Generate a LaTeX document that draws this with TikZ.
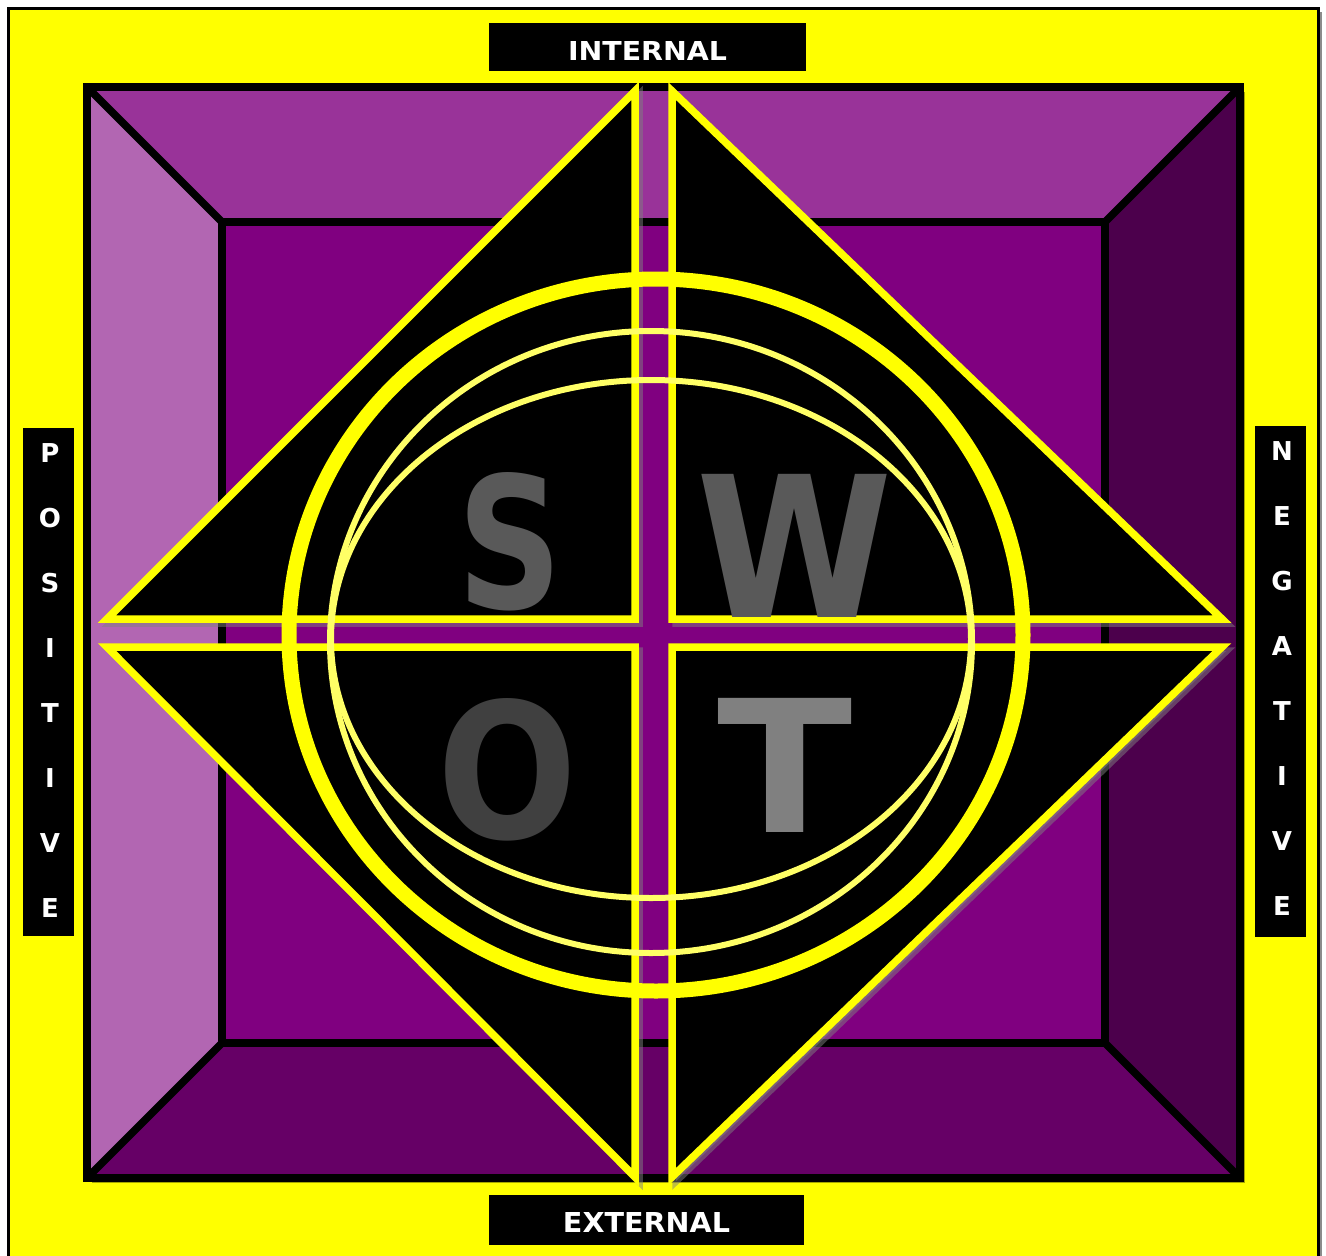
\documentclass[tikz,border=0pt]{standalone}
\usepackage{fontspec}
\setmainfont{DejaVu Sans}
\usepackage{graphicx}
\definecolor{bgyellow}{HTML}{FFFF00}
\definecolor{lightyel}{HTML}{FFFF66}
\definecolor{ptop}{HTML}{993399}
\definecolor{pleft}{HTML}{B266B2}
\definecolor{pright}{HTML}{4C004C}
\definecolor{pbottom}{HTML}{660066}
\definecolor{pcenter}{HTML}{800080}
\definecolor{sgray}{HTML}{595959}
\definecolor{ogray}{HTML}{404040}
\definecolor{tgray}{HTML}{808080}
\tikzset{
  panel/.style={draw=black, line width=7.5pt, line join=miter},
  tri/.style={fill=black, draw=bgyellow, line width=7.5pt, line join=miter},
  trishadow/.style={fill=gray, draw=gray, line width=7.5pt, opacity=.5, line join=miter},
  labelbox/.style={fill=black, draw=bgyellow, line width=3pt},
  bigletter/.style={inner sep=0pt, font=\bfseries},
  sideletter/.style={inner sep=0pt, text=white, font=\fontsize{26}{26}\selectfont\bfseries},
  boxtext/.style={inner sep=0pt, text=white, font=\bfseries},
}
\begin{document}
\begin{tikzpicture}[x=1pt,y=-1pt]
\useasboundingbox (0,0) rectangle (1326,1256);
\clip (0,0) rectangle (1326,1256);
\fill[white] (0,0) rectangle (1326,1256);
% outer frame
\fill[black!45] (12,12) rectangle (1322,1275);
\draw[fill=bgyellow, line width=3pt] (8,8) rectangle (1318,1270);
% frame shadow
\fill[black, opacity=.35] (92,92) rectangle (1245,1183);
% panels
\fill[pcenter] (222,222) rectangle (1105,1043);
\fill[ptop] (87,87) -- (1240,87) -- (1105,222) -- (222,222) -- cycle;
\fill[pleft] (87,87) -- (222,222) -- (222,1043) -- (87,1178) -- cycle;
\fill[pright] (1240,87) -- (1240,1178) -- (1105,1043) -- (1105,222) -- cycle;
\fill[pbottom] (87,1178) -- (1240,1178) -- (1105,1043) -- (222,1043) -- cycle;
\draw[panel] (87,87) rectangle (1240,1178);
\draw[panel] (222,222) rectangle (1105,1043);
\draw[panel] (87,87) -- (222,222);
\draw[panel] (1240,87) -- (1105,222);
\draw[panel] (87,1178) -- (222,1043);
\draw[panel] (1240,1178) -- (1105,1043);
% triangle shadows
\begin{scope}[shift={(4,4)}]
\draw[trishadow] (635,91) -- (635,619) -- (107,619) -- cycle;
\draw[trishadow] (672,91) -- (672,619) -- (1222,619) -- cycle;
\draw[trishadow] (107,647) -- (635,647) -- (635,1177) -- cycle;
\draw[trishadow] (672,647) -- (1222,647) -- (672,1177) -- cycle;
\end{scope}
% triangles
\draw[tri] (635,91) -- (635,619) -- (107,619) -- cycle;
\draw[tri] (672,91) -- (672,619) -- (1222,619) -- cycle;
\draw[tri] (107,647) -- (635,647) -- (635,1177) -- cycle;
\draw[tri] (672,647) -- (1222,647) -- (672,1177) -- cycle;
% letters
\node[bigletter, text=sgray] (S) at (510.5,542) {\resizebox{105pt}{136pt}{S}};
\node[bigletter, text=sgray] (W) at (795,545.5) {\resizebox{196pt}{143pt}{W}};
\node[bigletter, text=ogray] (O) at (508,770) {\resizebox{140pt}{140pt}{O}};
\node[bigletter, text=tgray] (T) at (785.5,765) {\resizebox{135pt}{134pt}{T}};
% ellipses
\draw[bgyellow, line width=15pt] (656,635) ellipse [x radius=367, y radius=356];
\draw[lightyel, line width=6pt] (651,642) ellipse [x radius=321, y radius=311];
\draw[lightyel, line width=6pt] (651,639) ellipse [x radius=320, y radius=259];
% label boxes
\draw[labelbox] (487,21) rectangle (807,72);
\node[boxtext] (internal) at (647.5,50.5) {\resizebox{159pt}{19pt}{INTERNAL}};
\draw[labelbox] (487,1193) rectangle (805,1246);
\node[boxtext] (external) at (646.5,1222) {\resizebox{167pt}{20pt}{EXTERNAL}};
\draw[labelbox] (21,426) rectangle (75,937);
\draw[labelbox] (1253,424) rectangle (1307,938);
\foreach \L [count=\i from 0] in {P,O,S,I,T,I,V,E}
  \node[sideletter] (pos\i) at (50,453+65*\i) {\L};
\foreach \L [count=\i from 0] in {N,E,G,A,T,I,V,E}
  \node[sideletter] (neg\i) at (1282,451+65*\i) {\L};
\end{tikzpicture}
\end{document}
